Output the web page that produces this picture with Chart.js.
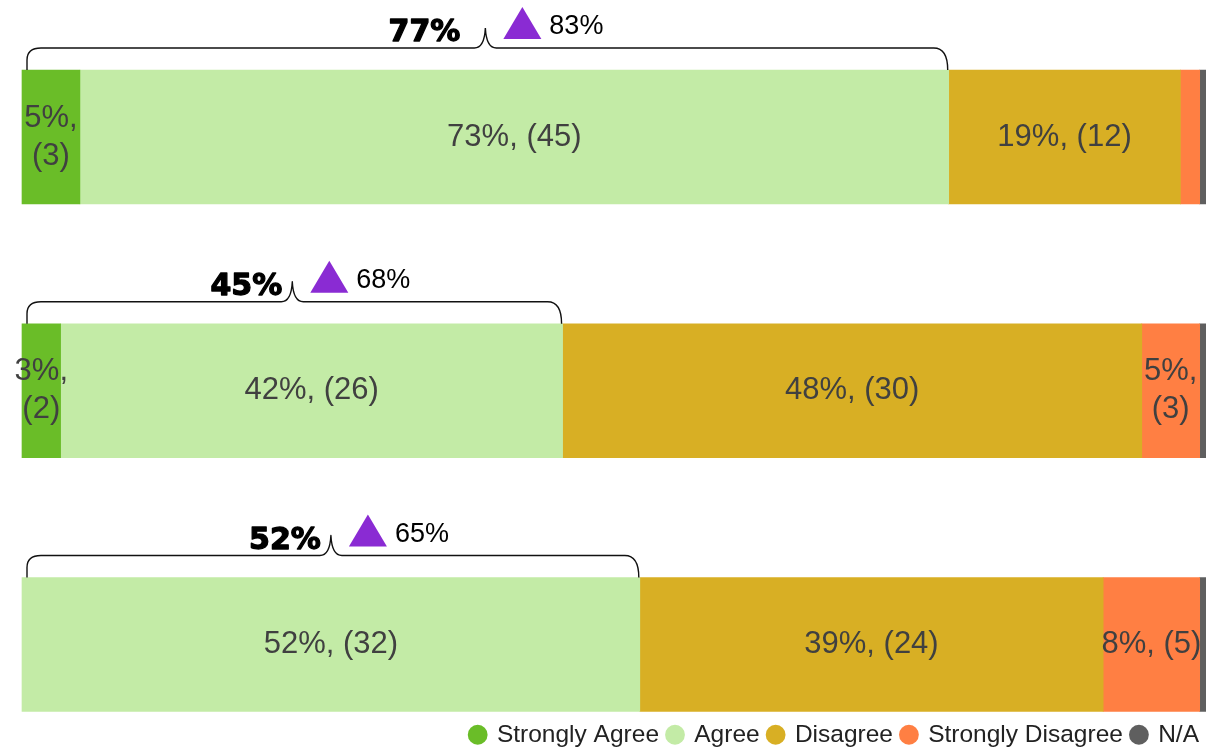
<!DOCTYPE html>
<html>
<head>
<meta charset="utf-8">
<script src="https://cdn.jsdelivr.net/npm/chart.js@4/dist/chart.umd.min.js"></script>
<style>
    html, body { margin: 0; padding: 0; overflow: hidden; background: #fff; }
    #wrap { position: absolute; left: 0; top: 0; width: 1219px; height: 757px; }
</style>
</head>
<body>
<div id="wrap"><canvas id="chrt"></canvas></div>
<script>
const categories = ["Row 1", "Row 2", "Row 3"];
const seriesNames = ["Strongly Agree", "Agree", "Disagree", "Strongly Disagree", "N/A"];
const stronglyAgree = [3, 2, 0];
const agree = [45, 26, 32];
const disagree = [12, 30, 24];
const stronglyDisagree = [1, 3, 5];
const notApplicable = [1, 1, 1];
const agreeTotals = [77, 45, 52];   // bold figure over the bracket
const benchmark = [83, 68, 65];     // figure next to the purple triangle
const colors = ["#6abd28", "#c3eba6", "#d8af24", "#ff7f43", "#5f5f5f"];

const series = [stronglyAgree, agree, disagree, stronglyDisagree, notApplicable];
const totals = categories.map((c, i) => series.reduce((s, arr) => s + arr[i], 0));

// percentage + count labels in the middle of every segment
const segmentLabels = {
    id: 'segmentLabels',
    afterDatasetsDraw(chart) {
        const ctx = chart.ctx;
        ctx.save();
        ctx.font = '31px "Liberation Sans", Arial, sans-serif';
        ctx.fillStyle = '#404040';
        ctx.textAlign = 'center';
        ctx.textBaseline = 'middle';
        chart.data.datasets.forEach((ds, d) => {
            chart.getDatasetMeta(d).data.forEach((bar, i) => {
                const v = ds.data[i];
                const pct = Math.round(v / totals[i] * 100);
                if (pct < 3) return;
                const cx = (bar.x + bar.base) / 2;
                const w = Math.abs(bar.x - bar.base);
                const txt = pct + '%, (' + v + ')';
                if (ctx.measureText(txt).width > w + 10) {
                    ctx.fillText(pct + '%,', cx, bar.y - 19);
                    ctx.fillText('(' + v + ')', cx, bar.y + 19);
                } else {
                    ctx.fillText(txt, cx, bar.y);
                }
            });
        });
        ctx.restore();
    }
};

// curly bracket over the agree part, with the totals and the triangle
const brackets = {
    id: 'brackets',
    afterDatasetsDraw(chart) {
        const ctx = chart.ctx;
        const gaps = [25, 10, 10];
        ctx.save();
        categories.forEach((c, i) => {
            const bar = chart.getDatasetMeta(1).data[i];
            const L = chart.scales.x.getPixelForValue(0);
            const R = bar.x;
            const T = bar.y - bar.height / 2;
            const mid = (L + R) / 2;
            const y0 = T - 22, peak = T - 42;

            ctx.strokeStyle = '#111';
            ctx.lineWidth = 1.4;
            ctx.beginPath();
            ctx.moveTo(L + 5, T);
            ctx.lineTo(L + 5, y0 + 12);
            ctx.quadraticCurveTo(L + 5, y0, L + 19, y0);
            ctx.lineTo(mid - 11, y0);
            ctx.quadraticCurveTo(mid - 1, y0, mid, peak);
            ctx.quadraticCurveTo(mid + 1, y0, mid + 11, y0);
            ctx.lineTo(R - 15, y0);
            ctx.quadraticCurveTo(R - 1, y0, R - 1, T);
            ctx.stroke();

            // heavy bold total
            ctx.fillStyle = '#000';
            ctx.strokeStyle = '#000';
            ctx.lineWidth = 1.3;
            ctx.lineJoin = 'round';
            ctx.font = 'bold 30px "DejaVu Sans", sans-serif';
            ctx.textAlign = 'right';
            ctx.textBaseline = 'alphabetic';
            ctx.fillText(agreeTotals[i] + '%', mid - gaps[i], T - 29);
            ctx.strokeText(agreeTotals[i] + '%', mid - gaps[i], T - 29);

            const tx = mid + 18, tb = T - 31;
            ctx.fillStyle = '#8a2bd3';
            ctx.beginPath();
            ctx.moveTo(tx, tb);
            ctx.lineTo(tx + 38, tb);
            ctx.lineTo(tx + 19, tb - 32);
            ctx.closePath();
            ctx.fill();

            ctx.fillStyle = '#000';
            ctx.font = '27px "Liberation Sans", Arial, sans-serif';
            ctx.textAlign = 'left';
            ctx.textBaseline = 'middle';
            ctx.fillText(benchmark[i] + '%', mid + 64, T - 43);
        });
        ctx.restore();
    }
};

// pull the legend in from the right edge a little
const legendShift = {
    id: 'legendShift',
    afterLayout(chart) {
        if (chart.legend) {
            chart.legend.left -= 11;
            chart.legend.right -= 11;
        }
    }
};

var chartId = new Chart(document.getElementById('chrt').getContext('2d'), {
    type: 'bar',
    data: {
        labels: categories,
        datasets: series.map((arr, k) => ({
            label: seriesNames[k],
            data: arr,
            backgroundColor: colors[k],
            borderWidth: 0,
            barThickness: 134,
            inflateAmount: (c) => c.raw === 0 ? 0 : 'auto',
            clip: false
        }))
    },
    options: {
        indexAxis: 'y',
        responsive: true,
        maintainAspectRatio: false,
        animation: false,
        layout: { padding: { left: 22, top: 137, right: 0, bottom: 0 } },
        plugins: {
            legend: {
                display: true,
                position: 'bottom',
                align: 'end',
                labels: {
                    usePointStyle: true,
                    pointStyle: 'circle',
                    boxWidth: 14,
                    boxHeight: 14,
                    padding: 9,
                    color: '#222',
                    font: { size: 24.5, family: '"Liberation Sans", Arial, sans-serif' }
                }
            },
            tooltip: { enabled: false }
        },
        scales: {
            x: {
                stacked: true,
                min: 0,
                max: Math.max(...totals),
                grid: { display: false },
                border: { display: false },
                ticks: { display: false },
                afterFit: (scale) => { scale.height = 69; }
            },
            y: {
                stacked: true,
                display: false,
                offset: false
            }
        }
    },
    plugins: [segmentLabels, brackets, legendShift]
});
</script>
</body>
</html>
